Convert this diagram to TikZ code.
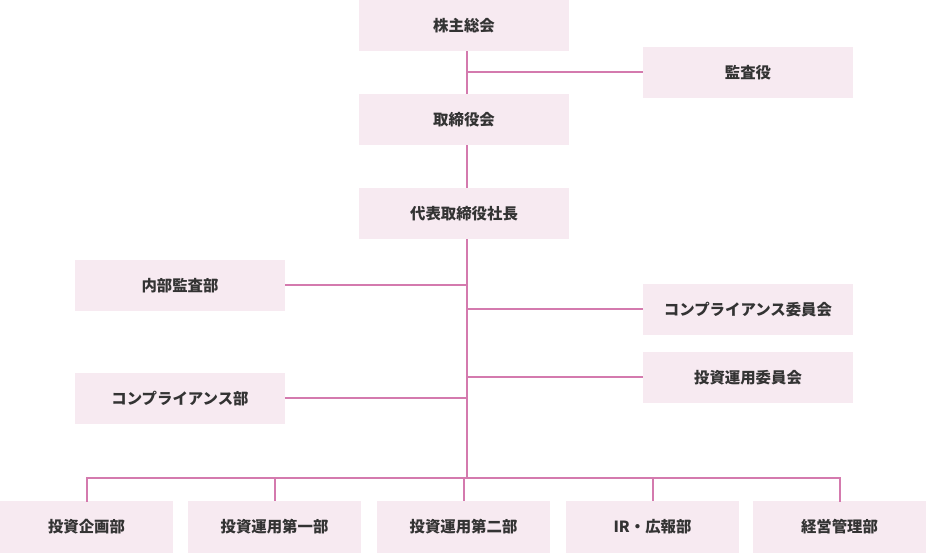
\documentclass[tikz,border=0pt]{standalone}
\usepackage{fontspec}
\newfontfamily\jp{Noto Sans CJK JP}
\definecolor{boxfill}{HTML}{F7EAF1}
\definecolor{linecol}{HTML}{D47AAE}
\definecolor{txt}{HTML}{333333}
\begin{document}
\begin{tikzpicture}[x=1pt,y=-1pt,
  box/.style={fill=boxfill,draw=none,minimum width=210pt,minimum height=51pt,inner sep=0pt,
    font=\jp\bfseries\fontsize{15.4}{17}\selectfont,text=txt},
  sbox/.style={box,minimum width=173pt,minimum height=52pt},
  conn/.style={draw=linecol,line width=2pt}]
\useasboundingbox (0,0) rectangle (927,553);
% nodes
\node[box] (kabu) at (464,25.5) {株主総会};
\node[box] (kansa) at (748,72.5) {監査役};
\node[box] (tori) at (464,119.5) {取締役会};
\node[box] (pres) at (464,213.5) {代表取締役社長};
\node[box] (naibu) at (180,285.5) {内部監査部};
\node[box] (compi) at (748,309.5) {コンプライアンス委員会};
\node[box] (toui) at (748,377.5) {投資運用委員会};
\node[box] (compb) at (180,398.5) {コンプライアンス部};
\node[sbox] (b1) at (86.5,527) {投資企画部};
\node[sbox] (b2) at (274.5,527) {投資運用第一部};
\node[sbox] (b3) at (463.5,527) {投資運用第二部};
\node[sbox] (b4) at (652.5,527) {IR・広報部};
\node[sbox] (b5) at (839.5,527) {経営管理部};
% spine
\coordinate (sx) at (467,0);
\coordinate (bus) at (0,478);
\draw[conn] (kabu.south -| sx) -- (tori.north -| sx);
\draw[conn] (tori.south -| sx) -- (pres.north -| sx);
\draw[conn] (pres.south -| sx) -- (bus -| sx);
\draw[conn] (kansa.west) -- (kansa.west -| sx);
\draw[conn] (naibu.east) -- (naibu.east -| sx);
\draw[conn] (compi.west) -- (compi.west -| sx);
\draw[conn] (toui.west) -- (toui.west -| sx);
\draw[conn] (compb.east) -- (compb.east -| sx);
\draw[conn,line cap=rect] (b1.north) -- (b1.north |- bus) -- (b5.north |- bus) -- (b5.north);
\draw[conn] (b2.north) -- (b2.north |- bus);
\draw[conn] (b3.north) -- (b3.north |- bus);
\draw[conn] (b4.north) -- (b4.north |- bus);
\end{tikzpicture}
\end{document}
